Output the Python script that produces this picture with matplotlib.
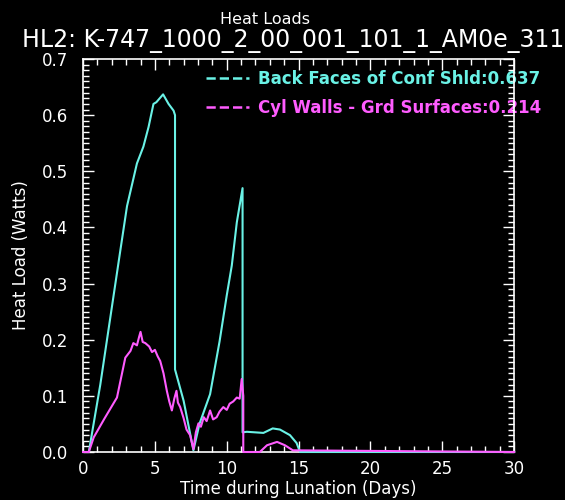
import matplotlib
matplotlib.use('Agg')
from matplotlib import pyplot as plt
from matplotlib.ticker import MultipleLocator
from matplotlib.lines import Line2D

# Back Faces of Conf Shld (cyan)
shld_days = [0.0, 0.4, 1.2, 1.9, 2.6, 3.06, 3.75, 4.2, 4.56, 4.9, 5.1, 5.57, 5.95, 6.3, 6.4,
             6.4, 7.0, 7.68, 8.1, 8.84, 9.5, 10.0, 10.35, 10.7, 11.1,
             11.1, 11.4, 12.55, 13.2, 13.7, 14.4, 14.86, 15.1, 30.0]
shld_load = [0.0, 0.0, 0.12, 0.24, 0.36, 0.438, 0.514, 0.544, 0.579, 0.62, 0.623, 0.637, 0.62, 0.608, 0.60,
             0.147, 0.091, 0.003, 0.05, 0.103, 0.197, 0.279, 0.332, 0.409, 0.47,
             0.035, 0.036, 0.034, 0.042, 0.040, 0.030, 0.016, 0.0, 0.0]

# Cyl Walls - Grd Surfaces (magenta)
wall_days = [0.0, 0.4, 0.74, 1.5, 2.36, 2.94, 3.3, 3.5, 3.75, 3.9, 4.0, 4.15, 4.33, 4.6, 4.8, 5.0,
             5.2, 5.37, 5.6, 5.83, 6.0, 6.18, 6.35, 6.5, 6.6, 6.76, 7.0, 7.2, 7.45, 7.68,
             7.85, 8.03, 8.2, 8.4, 8.6, 8.84, 9.05, 9.3, 9.5, 9.76, 10.0, 10.2, 10.45, 10.7,
             10.9, 11.04, 11.15, 11.15, 12.3, 12.8, 13.5, 14.05, 14.6, 30.0]
wall_load = [0.0, 0.0, 0.026, 0.06, 0.097, 0.168, 0.18, 0.194, 0.19, 0.205, 0.214, 0.196, 0.194, 0.188, 0.178, 0.182,
             0.17, 0.162, 0.14, 0.109, 0.09, 0.074, 0.095, 0.109, 0.088, 0.080, 0.06, 0.04, 0.03, 0.005,
             0.035, 0.051, 0.045, 0.062, 0.055, 0.074, 0.058, 0.062, 0.072, 0.08, 0.075, 0.086, 0.09, 0.097,
             0.095, 0.13, 0.10, 0.0, 0.0, 0.012, 0.018, 0.012, 0.003, 0.0]

cyan = '#6af2e6'
magenta = '#ff5cff'
labels = ['Back Faces of Conf Shld:0.637', 'Cyl Walls - Grd Surfaces:0.214']

fig = plt.figure(figsize=(5.65, 5.0), dpi=100, facecolor='black')
ax = fig.add_axes([0.147, 0.096, 0.763, 0.786], facecolor='black')

ax.plot(shld_days, shld_load, color=cyan, lw=1.5, zorder=7, clip_on=False)
ax.plot(wall_days, wall_load, color=magenta, lw=1.5, zorder=8, clip_on=False)

ax.set_xlim(0, 30)
ax.set_ylim(0, 0.7)
ax.xaxis.set_major_locator(MultipleLocator(5))
ax.xaxis.set_minor_locator(MultipleLocator(1))
ax.yaxis.set_major_locator(MultipleLocator(0.1))
ax.yaxis.set_minor_locator(MultipleLocator(0.01))
ax.yaxis.set_major_formatter(lambda v, p: f'{v:.1f}')

for s in ax.spines.values():
    s.set_color('white')
    s.set_linewidth(1.2)
    s.set_zorder(6)
ax.tick_params(which='both', direction='in', colors='white', top=True, right=True,
               labelsize=12, width=1.0)
ax.tick_params(which='major', length=8, pad=6)
ax.tick_params(which='minor', length=4)
ax.tick_params(axis='y', which='major', pad=11)

ax.set_xlabel('Time during Lunation (Days)', color='white', fontsize=12, labelpad=1)
ax.set_ylabel('Heat Load (Watts)', color='white', fontsize=12, labelpad=8)

fig.text(0.469, 0.952, 'Heat Loads', color='white', fontsize=11.5, ha='center', va='baseline')
fig.text(0.039, 0.906, 'HL2: K-747_1000_2_00_001_101_1_AM0e_311', color='white',
         fontsize=17, ha='left', va='baseline')

handles = [Line2D([], [], color=cyan, ls='--', lw=1.8),
           Line2D([], [], color=magenta, ls='--', lw=1.8)]
leg = ax.legend(handles, labels, loc='upper left', bbox_to_anchor=(0.27, 0.99),
                frameon=False, fontsize=12, labelcolor=[cyan, magenta],
                handlelength=2.6, handletextpad=0.5, labelspacing=0.7, borderaxespad=0)
leg.set_zorder(2)
for t in leg.get_texts():
    t.set_fontweight('bold')

fig.savefig('out.png', dpi=100, facecolor='black')
